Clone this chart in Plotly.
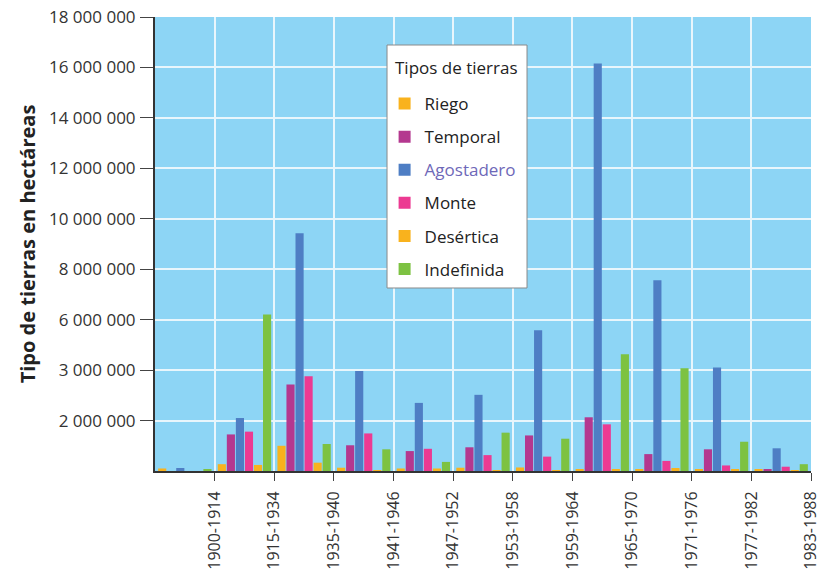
import plotly.graph_objects as go

periods = ["1900-1914", "1915-1934", "1935-1940", "1941-1946", "1947-1952",
           "1953-1958", "1959-1964", "1965-1970", "1971-1976", "1977-1982", "1983-1988"]

riego      = [100000, 270000, 1000000, 130000, 100000, 130000, 140000, 50000, 80000, 50000, 70000]
temporal   = [0, 1450000, 3430000, 1020000, 790000, 940000, 1410000, 2130000, 670000, 860000, 80000]
agostadero = [120000, 2100000, 9430000, 3960000, 2700000, 3020000, 5580000, 16160000, 7560000, 4100000, 900000]
monte      = [0, 1560000, 3760000, 1490000, 880000, 630000, 570000, 1850000, 400000, 220000, 170000]
desertica  = [0, 240000, 330000, 20000, 100000, 20000, 20000, 50000, 120000, 50000, 20000]
indefinida = [50000, 6200000, 1070000, 860000, 360000, 1520000, 1280000, 4630000, 4070000, 1160000, 270000]

y_tickvals = [2000000, 4000000, 6000000, 8000000, 10000000, 12000000, 14000000, 16000000, 18000000]
y_ticktext = ["2 000 000", "3 000 000", "6 000 000", "8 000 000", "10 000 000",
              "12 000 000", "14 000 000", "16 000 000", "18 000 000"]

series = [
    ("Riego", riego, "#F9B21D"),
    ("Temporal", temporal, "#B4388F"),
    ("<span style='color:#6E68B8'>Agostadero</span>", agostadero, "#4E7EC4"),
    ("Monte", monte, "#EC3A92"),
    ("Desértica", desertica, "#F9B21D"),
    ("Indefinida", indefinida, "#7DC242"),
]

xpos = [i + 0.5 for i in range(len(periods))]
tick_pos = [i + 1 for i in range(len(periods))]

fig = go.Figure()
for k, (name, vals, color) in enumerate(series):
    fig.add_trace(go.Bar(x=xpos, y=vals, name=name, marker_color=color,
                         marker_line_width=0, legendgroup=f"g{k}"))

# legend frame and title drawn separately so the title spacing matches
fig.add_shape(type="rect", xref="paper", yref="paper",
              x0=0.3537, x1=0.5671, y0=0.4031, y1=0.9383,
              fillcolor="white", line=dict(color="#8a8a8a", width=1), layer="above")
fig.add_annotation(text="Tipos de tierras", xref="paper", yref="paper",
                   x=0.3628, y=0.8877, xanchor="left", yanchor="middle",
                   showarrow=False, font=dict(size=17, color="#222"))

fig.update_layout(
    width=822, height=577,
    margin=dict(l=155, r=11, t=17, b=106, autoexpand=False),
    paper_bgcolor="white",
    plot_bgcolor="#8DD5F5",
    barmode="group",
    bargap=0.09,
    bargroupgap=0.1,
    font=dict(family="Open Sans, Noto Sans, sans-serif", color="#333333", size=15),
    legend=dict(
        x=0.35, y=0.848, xanchor="left", yanchor="top",
        bgcolor="rgba(0,0,0,0)", borderwidth=0,
        font=dict(size=17, color="#222"),
        traceorder="grouped", tracegroupgap=8,
        itemwidth=30,
    ),
    xaxis=dict(
        range=[0, 11],
        tickmode="array", tickvals=tick_pos, ticktext=periods,
        tickangle=-90,
        ticks="outside", ticklen=8, tickcolor="#444",
        ticklabelstandoff=4, ticklabeloverflow="allow",
        showline=True, linecolor="#333", linewidth=2,
        showgrid=True, gridcolor="#E8F6FC", gridwidth=2,
        tickfont=dict(size=16, color="#333"),
        zeroline=False, automargin=False,
    ),
    yaxis=dict(
        range=[0, 18000000],
        tickmode="array", tickvals=y_tickvals, ticktext=y_ticktext,
        ticks="outside", ticklen=13, tickcolor="#444",
        ticklabelstandoff=1, ticklabeloverflow="allow",
        showline=True, linecolor="#333", linewidth=2,
        showgrid=True, gridcolor="#E8F6FC", gridwidth=2,
        tickfont=dict(size=17, color="#333"),
        title=dict(text="<b>Tipo de tierras en hectáreas</b>", font=dict(size=20, color="#222"), standoff=8),
        zeroline=False, automargin=False,
    ),
)

# remove the browser's default page margin so the figure fills the window exactly
fig.write_html("out.html",
               config={"displayModeBar": False},
               post_script="document.body.style.margin='0';document.body.style.overflow='hidden';")
